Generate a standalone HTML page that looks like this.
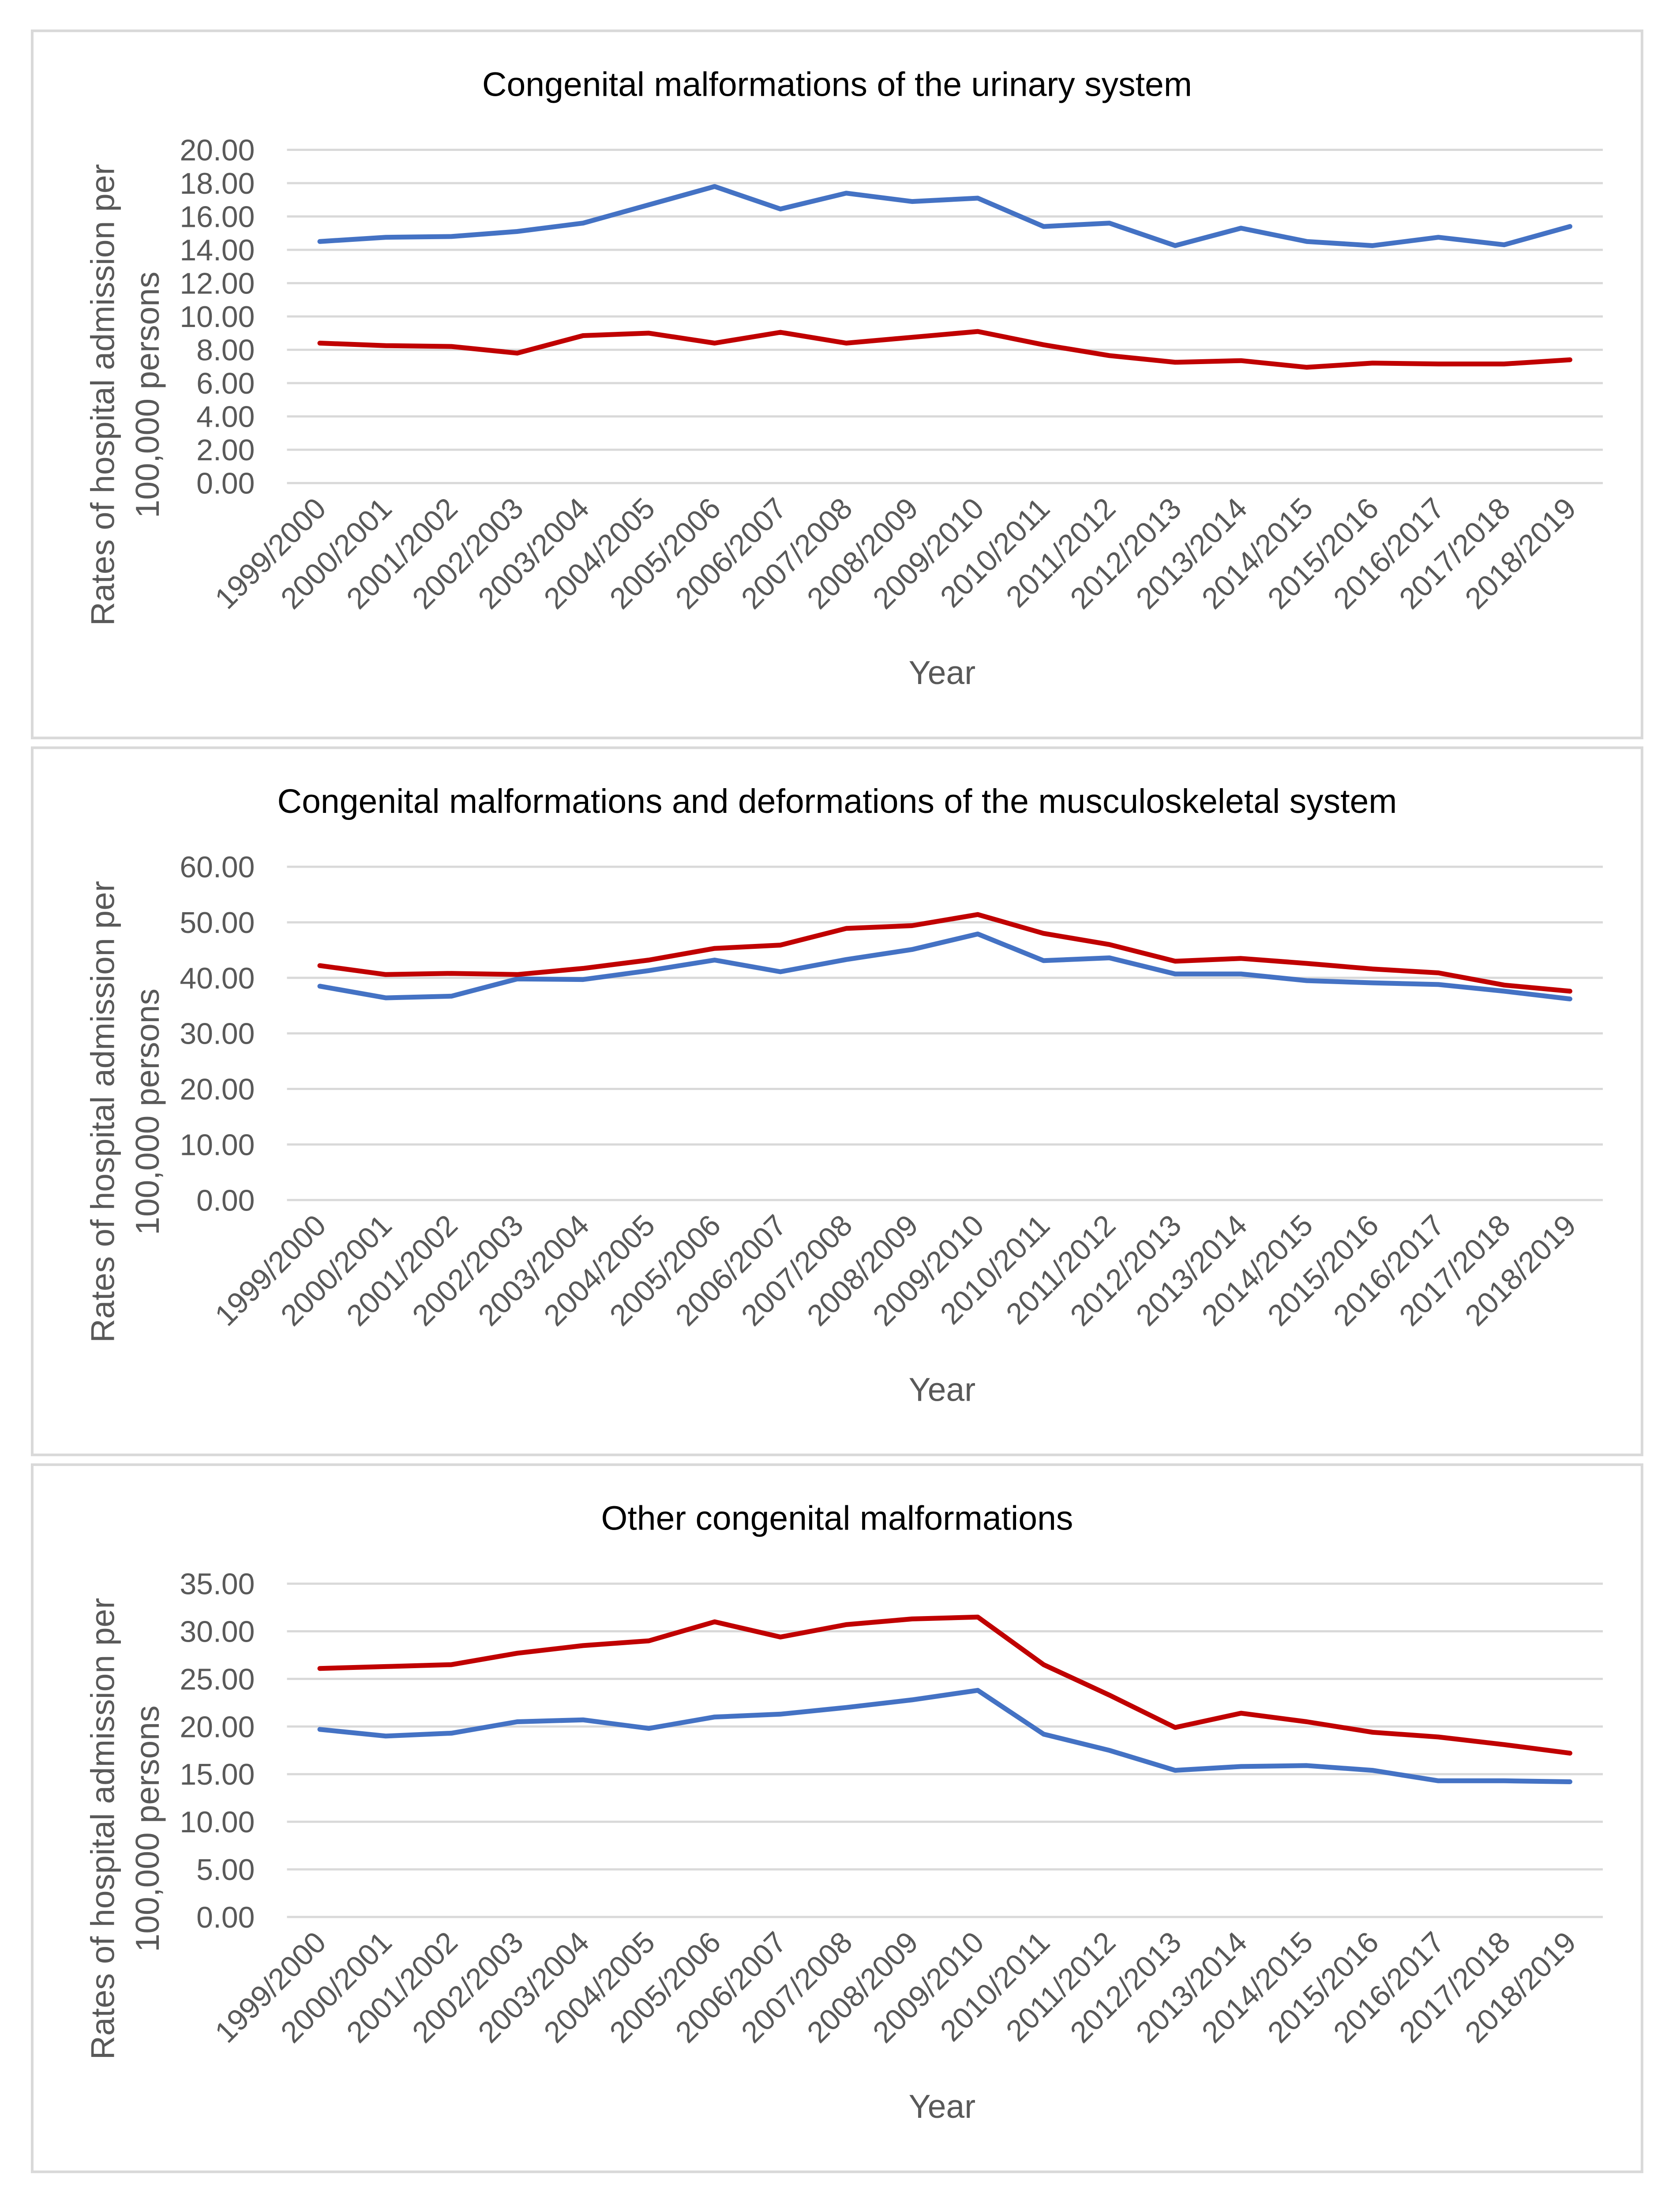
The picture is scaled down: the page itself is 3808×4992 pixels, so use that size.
<!DOCTYPE html>
<html><head><meta charset="utf-8"><style>
html,body{margin:0;padding:0;background:#fff}
svg{display:block}
text{font-family:"Liberation Sans","DejaVu Sans",sans-serif}
</style></head><body>
<svg id="root" xmlns="http://www.w3.org/2000/svg" width="3808" height="4992" viewBox="0 0 3808 4992"></svg>
<script>
const categories=["1999/2000","2000/2001","2001/2002","2002/2003","2003/2004","2004/2005","2005/2006","2006/2007","2007/2008","2008/2009","2009/2010","2010/2011","2011/2012","2012/2013","2013/2014","2014/2015","2015/2016","2016/2017","2017/2018","2018/2019"];
const urinaryBlue=[14.5,14.75,14.8,15.1,15.6,16.7,17.8,16.45,17.4,16.9,17.1,15.4,15.6,14.25,15.3,14.5,14.25,14.75,14.3,15.4];
const urinaryRed=[8.4,8.25,8.2,7.8,8.85,9.0,8.4,9.05,8.4,8.75,9.1,8.3,7.65,7.25,7.35,6.95,7.2,7.15,7.15,7.4];
const muscBlue=[38.5,36.4,36.7,39.8,39.7,41.3,43.2,41.1,43.3,45.1,47.9,43.1,43.6,40.7,40.7,39.5,39.1,38.8,37.6,36.2];
const muscRed=[42.2,40.6,40.8,40.6,41.7,43.2,45.3,45.9,48.9,49.4,51.4,48.0,46.0,43.0,43.5,42.6,41.6,40.9,38.7,37.6];
const otherBlue=[19.7,19.0,19.3,20.5,20.7,19.8,21.0,21.3,22.0,22.8,23.8,19.2,17.5,15.4,15.8,15.9,15.4,14.3,14.3,14.2];
const otherRed=[26.1,26.3,26.5,27.7,28.5,29.0,31.0,29.4,30.7,31.3,31.5,26.5,23.3,19.9,21.4,20.5,19.4,18.9,18.1,17.2];
const titles=["Congenital malformations of the urinary system","Congenital malformations and deformations of the musculoskeletal system","Other congenital malformations"];
const yMaxes=[20,60,35];
const yStepsArr=[2,10,5];

const NS="http://www.w3.org/2000/svg";
const root=document.getElementById('root');
const S=3.173;
function mk(tag,attrs,parent){const e=document.createElementNS(NS,tag);for(const k in attrs)e.setAttribute(k,attrs[k]);parent.appendChild(e);return e;}

const charts=[
 {title:titles[0],max:yMaxes[0],step:yStepsArr[0],blue:urinaryBlue,red:urinaryRed,slug:'urinary'},
 {title:titles[1],max:yMaxes[1],step:yStepsArr[1],blue:muscBlue,red:muscRed,slug:'musculoskeletal'},
 {title:titles[2],max:yMaxes[2],step:yStepsArr[2],blue:otherBlue,red:otherRed,slug:'other'}
];
charts.forEach((c,i)=>{
  const oy=i*512*S;
  const g=mk('g',{},root);
  
  
  const border=mk('rect',{x:23*S,y:22*S+oy,width:1150*S,height:505*S,fill:'#fff',stroke:'#d9d9d9','stroke-width':6},g);
  
  
  const t=mk('text',{x:598*S,y:60*S+oy+27,'text-anchor':'middle','font-size':77,fill:'#000'},g);
  t.textContent=c.title;
  
  
  const left=205*S,right=1145*S,top=107*S+oy,bot=345*S+oy;
  const yS=v=>bot-(v/c.max)*(bot-top);
  const bw=(right-left)/categories.length;
  const xS=k=>left+bw*(k+0.5);
  for(let v=0;v<=c.max+1e-9;v+=c.step){
    const gl=mk('line',{x1:left,x2:right,y1:yS(v),y2:yS(v),stroke:'#d9d9d9','stroke-width':5},g);
    
    
    const tl=mk('text',{x:182*S,y:yS(v)+24,'text-anchor':'end','font-size':68,fill:'#595959'},g);
    tl.textContent=v.toFixed(2);
    
    
  }
  categories.forEach((cat,k)=>{
    const x=xS(k)+18,y=bot+62;
    const xl=mk('text',{x:x,y:y,'text-anchor':'end','font-size':68,fill:'#595959',transform:`rotate(-45 ${x} ${y})`},g);
    xl.textContent=cat;
    
    
  });
  [['blue','#4472c4'],['red','#c00000']].forEach(([key,col])=>{
    const pts=c[key].map((v,k)=>xS(k).toFixed(1)+','+yS(v).toFixed(1)).join(' ');
    const pl=mk('polyline',{points:pts,fill:'none',stroke:col,'stroke-width':11,'stroke-linejoin':'round','stroke-linecap':'round'},g);
    
    
  });
  const cy=282*S+oy;
  const yt=mk('text',{'text-anchor':'middle','font-size':75,fill:'#595959',transform:`translate(${73*S+27} ${cy}) rotate(-90)`},g);
  
  
  const t1=mk('tspan',{x:0,y:0},yt);t1.textContent='Rates of hospital admission per';
  const t2=mk('tspan',{x:0,y:32*S},yt);t2.textContent='100,000 persons';
  const xt=mk('text',{x:673*S,y:480*S+oy+27,'text-anchor':'middle','font-size':75,fill:'#595959'},g);
  xt.textContent='Year';
  
  
});
</script>
</body></html>
